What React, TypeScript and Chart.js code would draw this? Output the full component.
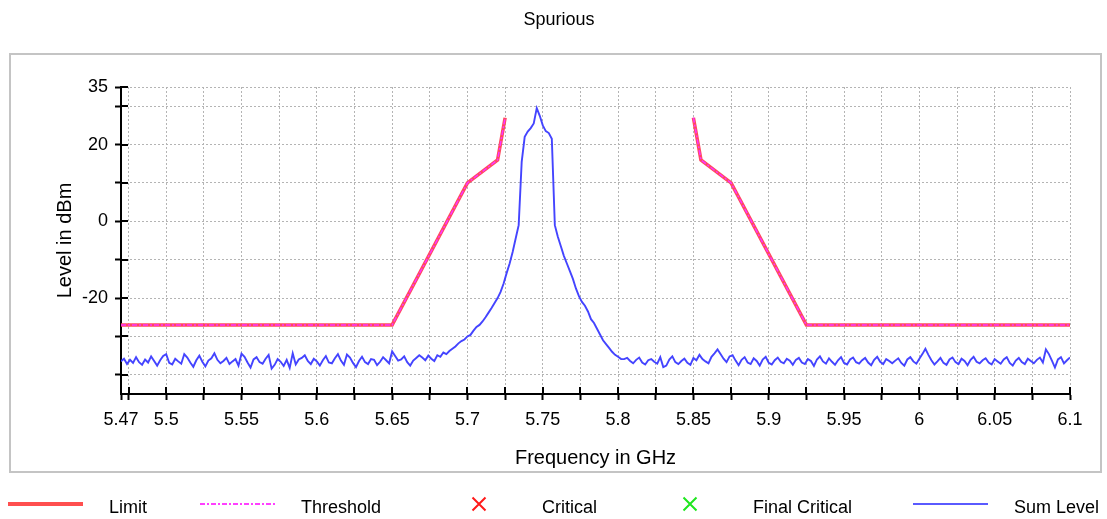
import { useEffect, useRef } from 'react';
import { Chart, registerables } from 'chart.js';

Chart.register(...registerables);

const FONT = '"Liberation Sans", Arial, Helvetica, sans-serif';

// ---- Limit / Threshold mask (GHz, dBm); null = gap between the two halves
const limitFreqGHz = [5.47, 5.65, 5.7, 5.72, 5.725, 5.79, 5.85, 5.855, 5.875, 5.925, 6.1];
const limitLevelDbm = [-27, -27, 10, 16, 27, null, 27, 16, 10, -27, -27];
const thresholdLevelDbm = [-27, -27, 10, 16, 27, null, 27, 16, 10, -27, -27];

// ---- Sum Level trace, sampled every 2 MHz starting at 5.47 GHz
const sumStartGHz = 5.47;
const sumStepGHz = 0.002;
const sumLevelLowBandDbm = [
  -36.5, -35.8, -37.2, -36.1, -36.9, -35.4, -36.7, -37.4, -36.0, -36.8,
  -35.2, -36.4, -37.6, -36.2, -35.1, -34.6, -36.9, -37.3, -35.8, -36.5,
  -37.1, -34.6, -35.5, -36.8, -37.9, -36.2, -35.0, -36.6, -37.8, -36.3,
  -35.7, -34.4, -36.1, -37.0, -36.4, -35.6, -37.2, -36.5, -35.9, -37.6,
  -34.5, -35.3, -36.8, -38.1, -36.0, -35.4, -36.7, -37.1, -35.8, -34.8,
  -38.4, -37.4, -35.9, -36.6, -37.7, -36.1, -38.2, -34.4, -37.3, -36.0,
  -35.6, -34.9, -36.4, -37.2, -35.8, -36.5, -37.6, -36.2, -35.1, -36.8,
  -37.0, -35.7, -34.6, -36.3, -37.4, -34.7, -35.5, -36.9, -38.0, -36.4,
  -35.3, -36.7, -37.2, -35.9, -36.1, -37.5, -36.6, -35.4, -36.2, -37.0,
  -33.9, -35.1, -36.3, -36.0, -35.2, -36.7, -37.6, -36.3, -35.6, -34.9,
  -35.5, -36.2, -35.0, -35.8, -36.4, -34.9, -35.3, -34.2, -34.6, -33.8,
  -33.2, -32.6, -31.8,
];
const sumLevelCarrierDbm = [
  -31.2, -30.8, -30.0, -29.6, -28.5, -27.5, -27.0, -26.1, -25.0, -23.8,
  -22.6, -21.3, -20.0, -18.4, -16.2, -13.5, -11.0, -8.0, -4.5, -1.0,
  15.5, 22.0, 23.4, 24.3, 25.5, 29.5, 27.5, 25.0, 23.5, 23.0,
  21.5, -1.0, -4.0, -6.5, -9.0, -11.0, -13.0, -15.0, -17.5, -19.5,
  -21.0, -22.0, -23.5, -25.5, -26.5, -28.0, -29.5, -31.0, -32.0, -33.0,
  -34.0, -34.8, -35.3, -35.9,
];
const sumLevelHighBandDbm = [
  -35.9, -35.6, -36.4, -37.0, -36.1, -35.5, -36.8, -37.3, -36.2, -35.9,
  -36.6, -37.1, -35.4, -38.0, -37.6, -36.0, -35.2, -36.7, -37.2, -36.4,
  -35.8, -36.9, -37.4, -35.6, -36.2, -34.8, -35.9, -36.5, -37.0, -35.3,
  -34.4, -33.4, -34.6, -35.8, -36.7, -35.2, -34.9, -36.3, -37.5, -36.1,
  -35.4, -36.8, -37.2, -35.7, -36.4, -37.6, -36.0, -35.3, -36.9, -37.3,
  -36.2, -35.5, -36.6, -37.0, -35.8, -36.3, -37.4, -36.1, -35.6, -36.8,
  -37.2, -35.9, -36.4, -37.7, -36.0, -35.2, -36.5, -37.1, -35.7, -36.6,
  -37.4, -36.2, -35.4, -36.9, -37.3, -36.0, -35.5, -36.7, -37.1, -36.2,
  -35.6, -36.8, -37.5, -36.1, -35.3, -36.6, -37.2, -35.9, -36.4, -37.0,
  -36.3, -35.7, -36.9, -37.6, -36.0, -35.4, -36.5, -37.1, -35.8, -34.6,
  -33.2, -34.8, -36.2, -37.3, -36.5, -35.6, -36.9, -37.4, -36.0, -35.5,
  -36.7, -37.2, -35.8, -36.4, -37.5, -36.1, -35.3, -36.6, -37.0, -36.2,
  -35.7, -36.8, -37.3, -35.9, -36.5, -37.1, -36.0, -35.4, -36.9, -37.6,
  -36.3, -35.6, -36.7, -37.2, -35.8, -36.4, -37.0, -36.1, -35.5, -36.8,
  -33.4, -34.6, -36.3, -38.1, -36.0, -35.4, -37.0, -36.2, -35.5,
];

// ---- Axis ticks and labels
const xTickValues = [
  5.47, 5.475, 5.5, 5.525, 5.55, 5.575, 5.6, 5.625, 5.65, 5.675, 5.7, 5.725, 5.75, 5.775,
  5.8, 5.825, 5.85, 5.875, 5.9, 5.925, 5.95, 5.975, 6, 6.025, 6.05, 6.075, 6.1,
];
const xLabelValues = [5.47, 5.5, 5.55, 5.6, 5.65, 5.7, 5.75, 5.8, 5.85, 5.9, 5.95, 6, 6.05, 6.1];
const xLabelTexts = ['5.47', '5.5', '5.55', '5.6', '5.65', '5.7', '5.75', '5.8', '5.85', '5.9', '5.95', '6', '6.05', '6.1'];
const yTickValues = [-40, -30, -20, -10, 0, 10, 20, 30, 35];
const yLabelValues = [-20, 0, 20, 35];

// ---- Legend entries
const legendNames = ['Limit', 'Threshold', 'Critical', 'Final Critical', 'Sum Level'];

export default function App() {
  const ref = useRef<HTMLCanvasElement>(null);

  useEffect(() => {
    const canvas = ref.current;
    if (!canvas) return;

    const sumLevel = [...sumLevelLowBandDbm, ...sumLevelCarrierDbm, ...sumLevelHighBandDbm];
    const sumPoints = sumLevel.map((y, i) => ({ x: +(sumStartGHz + sumStepGHz * i).toFixed(4), y }));
    const limitPoints = limitFreqGHz.map((x, i) => ({ x, y: limitLevelDbm[i] }));
    const thresholdPoints = limitFreqGHz.map((x, i) => ({ x, y: thresholdLevelDbm[i] }));

    const framePlugin = {
      id: 'frame',
      beforeDraw(chart: any) {
        const ctx = chart.ctx as CanvasRenderingContext2D;
        ctx.save();
        ctx.fillStyle = '#ffffff';
        ctx.fillRect(0, 0, chart.width, chart.height);
        ctx.strokeStyle = '#c4c4c4';
        ctx.lineWidth = 2;
        ctx.strokeRect(10, 54, 1091, 418);
        ctx.restore();
      },
    };

    const innerTicksPlugin = {
      id: 'innerTicks',
      afterDraw(chart: any) {
        const ctx = chart.ctx as CanvasRenderingContext2D;
        const { chartArea } = chart;
        const xs = chart.scales.x;
        const ys = chart.scales.y;
        ctx.save();
        ctx.strokeStyle = '#000';
        ctx.lineWidth = 2;
        ctx.setLineDash([]);
        xs.ticks.forEach((t: any) => {
          const px = Math.round(xs.getPixelForValue(t.value));
          ctx.beginPath();
          ctx.moveTo(px, chartArea.bottom);
          ctx.lineTo(px, chartArea.bottom - 7);
          ctx.stroke();
        });
        ys.ticks.forEach((t: any) => {
          const py = Math.round(ys.getPixelForValue(t.value));
          ctx.beginPath();
          ctx.moveTo(chartArea.left, py);
          ctx.lineTo(chartArea.left + 7, py);
          ctx.stroke();
        });
        ctx.restore();
      },
    };

    const legendPlugin = {
      id: 'customLegend',
      afterDraw(chart: any) {
        const ctx = chart.ctx as CanvasRenderingContext2D;
        const symbolX = [8, 200, 441, 652, 913];
        const ly = 504;
        ctx.save();
        // Limit
        ctx.strokeStyle = '#ff4f4f';
        ctx.lineWidth = 4;
        ctx.beginPath();
        ctx.moveTo(symbolX[0], ly);
        ctx.lineTo(symbolX[0] + 75, ly);
        ctx.stroke();
        // Threshold
        ctx.strokeStyle = '#ff40ff';
        ctx.lineWidth = 2;
        ctx.setLineDash([5, 2, 2, 2]);
        ctx.beginPath();
        ctx.moveTo(symbolX[1], ly);
        ctx.lineTo(symbolX[1] + 76, ly);
        ctx.stroke();
        ctx.setLineDash([]);
        // Critical / Final Critical crosses
        const cross = (cx: number, color: string) => {
          ctx.strokeStyle = color;
          ctx.lineWidth = 2;
          ctx.beginPath();
          ctx.moveTo(cx - 6.5, ly - 6.5);
          ctx.lineTo(cx + 6.5, ly + 6.5);
          ctx.moveTo(cx + 6.5, ly - 6.5);
          ctx.lineTo(cx - 6.5, ly + 6.5);
          ctx.stroke();
        };
        cross(symbolX[2] + 38, '#ff1a1a');
        cross(symbolX[3] + 38, '#1ee61e');
        // Sum Level
        ctx.strokeStyle = '#5a5aff';
        ctx.lineWidth = 2;
        ctx.beginPath();
        ctx.moveTo(symbolX[4], ly);
        ctx.lineTo(symbolX[4] + 75, ly);
        ctx.stroke();
        // Texts
        ctx.fillStyle = '#000';
        ctx.font = `18px ${FONT}`;
        ctx.textBaseline = 'alphabetic';
        ctx.textAlign = 'left';
        legendNames.forEach((name, i) => {
          ctx.fillText(name, symbolX[i] + 101, 513);
        });
        ctx.restore();
      },
    };

    const chart = new Chart(canvas, {
      type: 'line',
      data: {
        datasets: [
          {
            label: 'Threshold',
            data: thresholdPoints,
            borderColor: '#ff33ff',
            borderWidth: 1.5,
            borderDash: [5, 2, 2, 2],
            pointRadius: 0,
            spanGaps: false,
            order: 0,
          },
          {
            label: 'Limit',
            data: limitPoints,
            borderColor: '#ff4a5e',
            borderWidth: 3.5,
            pointRadius: 0,
            spanGaps: false,
            order: 1,
          },
          {
            label: 'Sum Level',
            data: sumPoints,
            borderColor: '#4444ff',
            borderWidth: 1.9,
            pointRadius: 0,
            order: 2,
          },
        ],
      } as any,
      options: {
        responsive: false,
        animation: false,
        devicePixelRatio: 1,
        events: [],
        layout: { padding: { left: 48, right: 37, top: 0, bottom: 45 } },
        plugins: {
          legend: { display: false },
          tooltip: { enabled: false },
          title: {
            display: true,
            text: 'Spurious',
            color: '#000',
            font: { family: FONT, size: 18, weight: 'normal' },
            padding: { top: 9, bottom: 56.4 },
          },
        },
        scales: {
          x: {
            type: 'linear',
            min: 5.47,
            max: 6.1,
            afterBuildTicks: (s: any) => {
              s.ticks = xTickValues.map((v) => ({ value: v }));
            },
            afterFit: (s: any) => {
              s.height = 80;
            },
            ticks: {
              autoSkip: false,
              maxRotation: 0,
              minRotation: 0,
              padding: 9,
              color: '#000',
              font: { family: FONT, size: 18 },
              callback: (v: any) => {
                const idx = xLabelValues.findIndex((l) => Math.abs(l - Number(v)) < 1e-6);
                return idx >= 0 ? xLabelTexts[idx] : '';
              },
            },
            grid: {
              color: '#b4b4b4',
              lineWidth: 1,
              tickLength: 6,
              tickWidth: 2,
              tickColor: '#000',
              tickBorderDash: [],
            },
            border: { display: true, color: '#000', width: 2, dash: [2, 2] },
            title: {
              display: true,
              text: 'Frequency in GHz',
              color: '#000',
              font: { family: FONT, size: 20 },
              padding: { top: 0, bottom: 4 },
            },
          },
          y: {
            type: 'linear',
            min: -45,
            max: 35,
            afterBuildTicks: (s: any) => {
              s.ticks = yTickValues.map((v) => ({ value: v }));
            },
            afterFit: (s: any) => {
              s.width = 73;
            },
            ticks: {
              autoSkip: false,
              padding: 7,
              color: '#000',
              font: { family: FONT, size: 18 },
              callback: (v: any) => (yLabelValues.includes(Number(v)) ? String(v) : ''),
            },
            grid: {
              color: '#b4b4b4',
              lineWidth: 1,
              tickLength: 6,
              tickWidth: 2,
              tickColor: '#000',
              tickBorderDash: [],
            },
            border: { display: true, color: '#000', width: 2, dash: [2, 2] },
            title: {
              display: true,
              text: 'Level in dBm',
              color: '#000',
              font: { family: FONT, size: 20 },
              padding: { top: 5, bottom: 0 },
            },
          },
        },
      } as any,
      plugins: [framePlugin, innerTicksPlugin, legendPlugin],
    });

    return () => chart.destroy();
  }, []);

  return (
    <div style={{ position: 'fixed', left: 0, top: 0, width: 1107, height: 519, background: '#fff' }}>
      <canvas ref={ref} width={1107} height={519} style={{ display: 'block', width: 1107, height: 519 }} />
    </div>
  );
}
